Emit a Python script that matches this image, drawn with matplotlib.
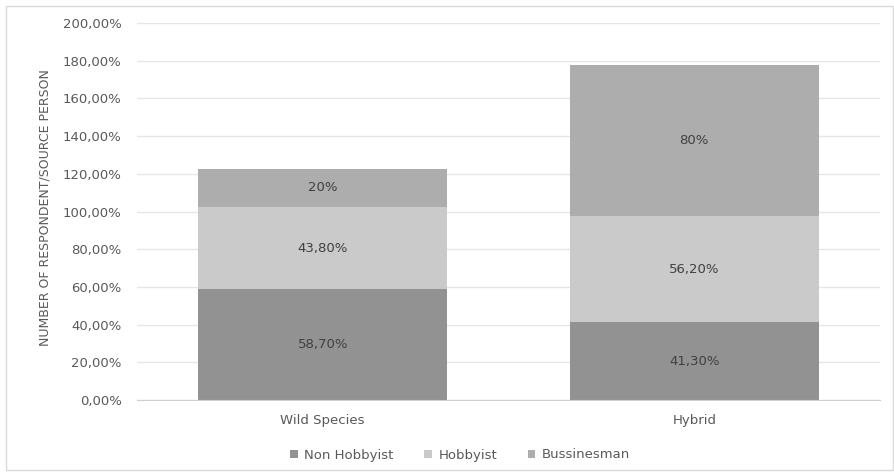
import matplotlib.pyplot as plt
from matplotlib.patches import Rectangle

categories = ["Wild Species", "Hybrid"]
series = ["Non Hobbyist", "Hobbyist", "Bussinesman"]
non_hobbyist = [58.7, 41.3]
hobbyist = [43.8, 56.2]
businessman = [20.0, 80.0]
labels = [["58,70%", "41,30%"], ["43,80%", "56,20%"], ["20%", "80%"]]
yticks = [0, 20, 40, 60, 80, 100, 120, 140, 160, 180, 200]

COLORS = ["#8f8f8f", "#c9c9c9", "#ababab"]
TICK_C = "#595959"

plt.rcParams["font.family"] = ["DejaVu Sans"]

fig = plt.figure(figsize=(8.95, 4.76), dpi=100)
fig.patch.set_facecolor("white")
fig.add_artist(Rectangle((6 / 895, 6 / 476), 887 / 895, 464 / 476,
                         transform=fig.transFigure, fill=False,
                         edgecolor="#d9d9d9", linewidth=1))

ax = fig.add_axes([137 / 895, 1 - 400 / 476, 743 / 895, 377 / 476])
x = list(range(len(categories)))
bottom = [0.0] * len(categories)
for vals, col, name, labs in zip([non_hobbyist, hobbyist, businessman], COLORS, series, labels):
    ax.bar(x, vals, width=0.67, bottom=bottom, color=col, label=name, zorder=2, alpha=0.97)
    for xi, v, b, t in zip(x, vals, bottom, labs):
        ax.text(xi, b + v / 2, t, ha="center", va="center", fontsize=9.5, color="#404040", zorder=3)
    bottom = [b + v for b, v in zip(bottom, vals)]

ax.set_xlim(-0.5, 1.5)
ax.set_ylim(0, 200)
ax.set_yticks(yticks)
ax.set_yticklabels([f"{t},00%" for t in yticks])
ax.set_xticks(x)
ax.set_xticklabels(categories)
ax.tick_params(axis="both", length=0, labelsize=9.5, colors=TICK_C)
ax.tick_params(axis="y", pad=11)
ax.tick_params(axis="x", pad=10)
ax.yaxis.grid(True, color="#e6e6e6", linewidth=1, zorder=0)
for s in ["top", "right", "left"]:
    ax.spines[s].set_visible(False)
ax.spines["bottom"].set_color("#d0d0d0")
ax.set_ylabel("NUMBER OF RESPONDENT/SOURCE PERSON", fontsize=9, color=TICK_C)
ax.yaxis.set_label_coords(-86 / 743, 0.51)

fig.legend(loc="center", bbox_to_anchor=(460 / 895, 1 - 455 / 476), ncol=3, frameon=False,
           fontsize=9.5, handlelength=0.6, handleheight=0.6, handletextpad=0.5,
           columnspacing=2.3, labelcolor=TICK_C)

fig.savefig("out.png", dpi=100, facecolor="white")
